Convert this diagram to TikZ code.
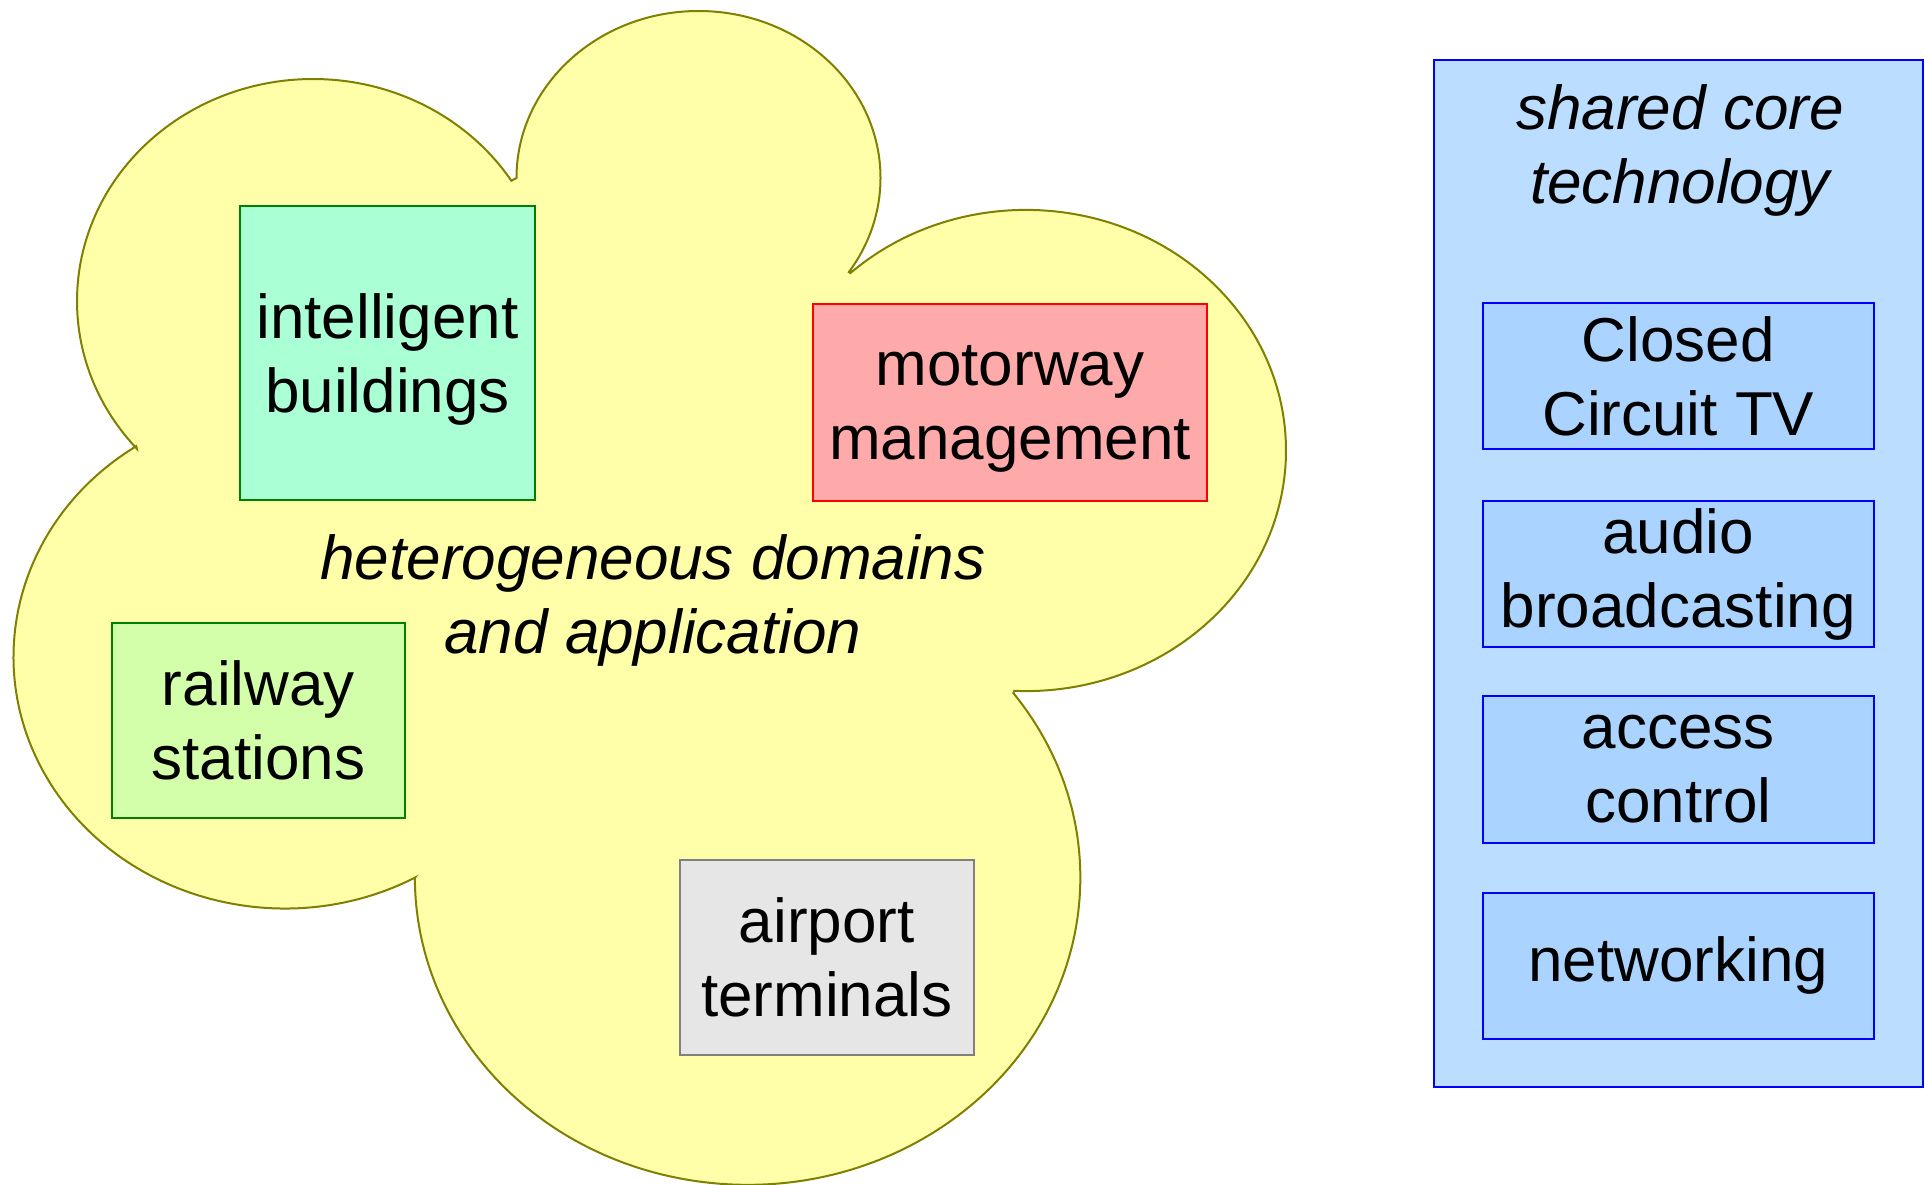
\documentclass[tikz,border=0pt]{standalone}
\usepackage{fontspec}
\setmainfont{Liberation Sans}
\usetikzlibrary{calc}

\definecolor{cloudfill}{HTML}{FFFFAA}
\definecolor{cloudedge}{HTML}{7F7F00}
\definecolor{mintfill}{HTML}{AAFFD4}
\definecolor{limefill}{HTML}{D4FFAA}
\definecolor{darkgreen}{HTML}{008000}
\definecolor{rosefill}{HTML}{FFAAAA}
\definecolor{greyfill}{HTML}{E6E6E6}
\definecolor{greyedge}{HTML}{808080}
\definecolor{panelfill}{HTML}{BBDDFF}
\definecolor{techfill}{HTML}{AAD4FF}
\definecolor{techedge}{HTML}{0000FF}

\begin{document}
\begin{tikzpicture}[x=1pt,y=-1pt,
  lbl/.style={font=\fontsize{62}{74}\selectfont, align=center},
  ilbl/.style={font=\fontsize{62}{74}\selectfont\itshape, align=center},
  domainbox/.style={draw, line width=2pt, inner sep=0pt, lbl},
  techbox/.style={draw=techedge, fill=techfill, line width=2pt, inner sep=0pt,
    minimum width=391.5pt, minimum height=146.5pt, lbl},
  cloudshape/.style={draw=cloudedge, fill=cloudfill, line width=2pt, line join=miter}]

\useasboundingbox (0,0) rectangle (1925,1185);

% cloud built from five elliptical lobes
\draw[cloudshape]
  (313,301) ++(221.7:236pt and 222pt)
    arc[start angle=221.7, end angle=32.8, x radius=236pt, y radius=222pt]
  -- ($(698.5,178)+(180:182pt and 167pt)$)
    arc[start angle=180, end angle=-34.3, x radius=182pt, y radius=167pt]
  -- ($(1026,450.5)+(132.5:260pt and 240.6pt)$)
    arc[start angle=132.5, end angle=-92.6, x radius=260pt, y radius=240.6pt]
  -- ($(747.6,877.8)+(37:332.7pt and 307pt)$)
    arc[start angle=37, end angle=-180, x radius=332.7pt, y radius=307pt]
  -- ($(284.8,656.8)+(-61.3:271.3pt and 251.7pt)$)
    arc[start angle=-61.3, end angle=-236.8, x radius=271.3pt, y radius=251.7pt]
  -- cycle;

% application domains
\node[domainbox, fill=mintfill, draw=darkgreen, minimum width=295pt, minimum height=294pt,
  text depth=0pt]
  (ib) at (387.5,353) {intelligent\\buildings};
\node[domainbox, fill=rosefill, draw=red, minimum width=394pt, minimum height=197pt,
  text depth=0pt]
  (mm) at (1010,402.5) {motorway\\management};
\node[domainbox, fill=limefill, draw=darkgreen, minimum width=293pt, minimum height=195pt]
  (rs) at (258.4,720) {railway\\stations};
\node[domainbox, fill=greyfill, draw=greyedge, minimum width=293.6pt, minimum height=195pt]
  (at) at (826.8,957) {airport\\terminals};

\node[ilbl] (domains) at (653,600) {heterogeneous domains\\and application};

% shared technology panel
\node[draw=techedge, fill=panelfill, line width=2pt, minimum width=488.6pt,
  minimum height=1026.5pt, inner sep=0pt] (panel) at (1678.3,573.3) {};
\node[ilbl] (core) at (1680,150) {shared core\\technology};

\node[techbox] (cctv) at (1678.3,376) {Closed\\Circuit TV};
\node[techbox] (audio) at (1678.3,574) {audio\\broadcasting};
\node[techbox] (access) at (1678.3,769.5) {access\\control};
\node[techbox] (net) at (1678.3,965.8) {networking};

\end{tikzpicture}
\end{document}
